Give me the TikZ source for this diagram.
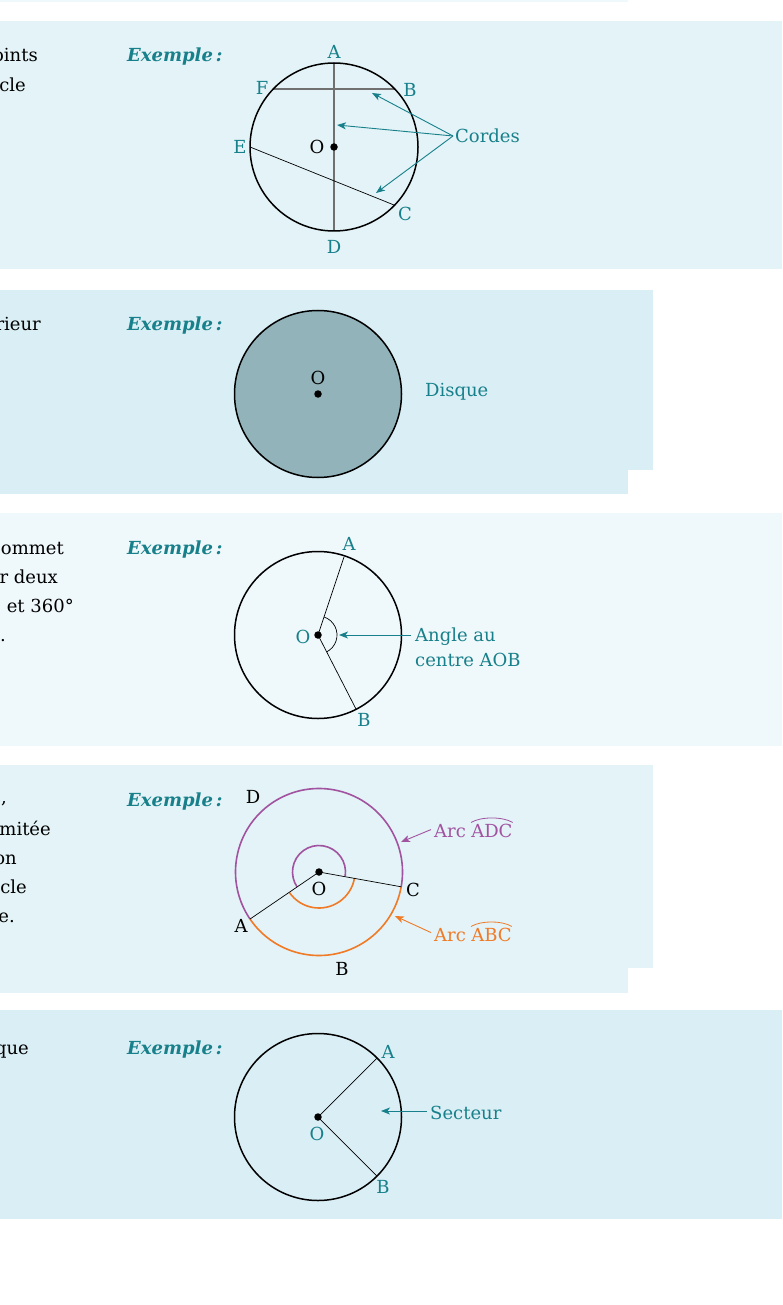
\documentclass[tikz,border=0pt]{standalone}
\usepackage{fontspec}
\setmainfont{DejaVu Serif}
\usetikzlibrary{arrows.meta,calc}
\definecolor{tealc}{HTML}{17808A}
\definecolor{bgA}{HTML}{E3F3F7}
\definecolor{bgB}{HTML}{DAEEF5}
\definecolor{bgC}{HTML}{EFF8FB}
\definecolor{arcp}{HTML}{A153A0}
\definecolor{arco}{HTML}{F07A26}
\definecolor{diskc}{HTML}{91B3B9}
\definecolor{chordg}{HTML}{707070}
\begin{document}
\begin{tikzpicture}[x=1pt,y=-1pt,
  body/.style={font=\fontsize{18}{22}\selectfont, inner sep=0pt, text=black, anchor=base east},
  lbl/.style={font=\fontsize{18}{22}\selectfont, inner sep=0pt, text=tealc},
  blbl/.style={font=\fontsize{18}{22}\selectfont, inner sep=0pt, text=black},
  ex/.style={font=\fontsize{18}{22}\selectfont\bfseries\itshape, text=tealc, inner sep=0pt, anchor=base west},
  circ/.style={draw=black, line width=1.5pt},
  thinl/.style={draw=black, line width=0.7pt},
  grayl/.style={draw=chordg, line width=1.3pt},
  dotc/.style={circle, fill=black, inner sep=0pt, minimum size=7.5pt},
  tip/.style={-{Stealth[length=9pt,width=7pt,inset=2.5pt]}},
  tarr/.style={draw=tealc, line width=0.9pt, tip},
]
\useasboundingbox (0,0) rectangle (782,1305);
\clip (0,0) rectangle (782,1305);
\fill[white] (0,0) rectangle (782,1305);

% ---------- backgrounds ----------
\fill[bgC] (0,0) rectangle (628,2);
\fill[bgA] (0,21) rectangle (782,269);
\fill[bgB] (0,290) rectangle (653,470);
\fill[bgB] (0,470) rectangle (628,494);
\fill[bgC] (0,513) rectangle (782,746);
\fill[bgA] (0,765) rectangle (653,968);
\fill[bgA] (0,968) rectangle (628,993);
\fill[bgB] (0,1010) rectangle (782,1219);

% ---------- left text fragments ----------
\node[body] (t1a) at (38,62) {oints};
\node[body] (t1b) at (26,92) {cle};
\node[body] (t2a) at (41,330) {rieur};
\node[body] (t3a) at (64,554) {ommet};
\node[body] (t3b) at (58,583) {r deux};
\node[body] (t3c) at (74,612) {° et 360°};
\node[body] (t3d) at (6,641) {.};
\node[body] (t4a) at (7,803) {s,};
\node[body] (t4b) at (51,835) {mitée};
\node[body] (t4c) at (17,864) {on};
\node[body] (t4d) at (27,893) {cle};
\node[body] (t4e) at (15,922) {e.};
\node[body] (t5a) at (29,1054) {que};

% ---------- Exemple labels ----------
\node[ex] (ex1) at (127,62) {Exemple\,:};
\node[ex] (ex2) at (127,330) {Exemple\,:};
\node[ex] (ex3) at (127,554) {Exemple\,:};
\node[ex] (ex4) at (127,806) {Exemple\,:};
\node[ex] (ex5) at (127,1054) {Exemple\,:};

% ---------- Panel 1 : cordes ----------
\coordinate (O1) at (334,147);
\coordinate (A1) at (334,63);
\coordinate (D1) at (334,231);
\coordinate (F1) at (273,89);
\coordinate (B1) at (395,89);
\coordinate (E1) at (250,147);
\coordinate (C1) at (394,205);
\draw[grayl] (A1) -- (D1);
\draw[grayl] (F1) -- (B1);
\draw[thinl] (E1) -- (C1);
\draw[circ] (O1) circle[radius=84];
\node[dotc] (dot1) at (O1) {};
\node[blbl] (lO1) at (317,147) {O};
\node[lbl] (lA1) at (334,52) {A};
\node[lbl] (lB1) at (410,90) {B};
\node[lbl] (lF1) at (262,88) {F};
\node[lbl] (lE1) at (240,147) {E};
\node[lbl] (lC1) at (405,214) {C};
\node[lbl] (lD1) at (334,247) {D};
\node[lbl, anchor=west, inner sep=2pt] (cordes) at (453,136) {Cordes};
\coordinate (k1) at (372,93);
\coordinate (k2) at (337,125);
\coordinate (k3) at (376,193);
\draw[tarr] (cordes.west) -- (k1);
\draw[tarr] (cordes.west) -- (k2);
\draw[tarr] (cordes.west) -- (k3);

% ---------- Panel 2 : disque ----------
\coordinate (O2) at (318,394);
\draw[circ, fill=diskc] (O2) circle[radius=83.5];
\node[dotc] (dot2) at (O2) {};
\node[blbl] (lO2) at (318,378) {O};
\node[lbl, anchor=west] (disque) at (425,392) {Disque};

% ---------- Panel 3 : angle au centre ----------
\coordinate (O3) at (318,635);
\coordinate (A3) at (344,557);
\coordinate (B3) at (356,709);
\draw[thinl] (O3) -- (A3);
\draw[thinl] (O3) -- (B3);
\draw[thinl] ($(O3)+(-71.6:19)$) arc[start angle=-71.6, end angle=62.8, radius=19];
\draw[circ] (O3) circle[radius=83.5];
\node[dotc] (dot3) at (O3) {};
\node[lbl] (lO3) at (303,637) {O};
\node[lbl] (lA3) at (349,544) {A};
\node[lbl] (lB3) at (364,720) {B};
\node[lbl, anchor=west, align=left, font=\fontsize{18}{25}\selectfont] (angle) at (415,647) {Angle au\\centre AOB};
\coordinate (k4) at (339,635);
\draw[tarr] (411,635) -- (k4);

% ---------- Panel 4 : arcs ----------
\coordinate (O4) at (319,872);
\coordinate (A4) at ($(O4)+(-214.3:83.5)$);
\coordinate (C4) at ($(O4)+(10.2:83.5)$);
\draw[arco, line width=1.6pt] (A4) arc[start angle=-214.3, end angle=-349.8, radius=83.5];
\draw[arcp, line width=1.6pt] (C4) arc[start angle=10.2, end angle=-214.3, radius=83.5];
\draw[arcp, line width=1.6pt] ($(O4)+(9:26.5)$) arc[start angle=9, end angle=-214, radius=26.5];
\draw[arco, line width=1.6pt] ($(O4)+(-215:36)$) arc[start angle=-215, end angle=-350.5, radius=36];
\draw[thinl] (O4) -- (A4);
\draw[thinl] (O4) -- (C4);
\node[dotc] (dot4) at (O4) {};
\node[blbl] (lO4) at (319,889) {O};
\node[blbl] (lD4) at (253,797) {D};
\node[blbl] (lA4) at (241,926) {A};
\node[blbl] (lB4) at (342,969) {B};
\node[blbl] (lC4) at (413,890) {C};
\node[font=\fontsize{18}{22}\selectfont, inner sep=0pt, text=arcp, anchor=base west] (adcw) at (434,837) {Arc};
\node[font=\fontsize{18}{22}\selectfont, inner sep=0pt, text=arcp, anchor=base west] (adc) at ($(adcw.base east)+(5,0)$) {ADC};
\draw[arcp, line width=0.8pt] ($(adc.north west)+(0,-1)$) .. controls ($(adc.north west)+(10,-7)$) and ($(adc.north east)+(-10,-7)$) .. ($(adc.north east)+(0,-1)$);
\node[font=\fontsize{18}{22}\selectfont, inner sep=0pt, text=arco, anchor=base west] (abcw) at (434,941) {Arc};
\node[font=\fontsize{18}{22}\selectfont, inner sep=0pt, text=arco, anchor=base west] (abc) at ($(abcw.base east)+(5,0)$) {ABC};
\draw[arco, line width=0.8pt] ($(abc.north west)+(0,-1)$) .. controls ($(abc.north west)+(10,-7)$) and ($(abc.north east)+(-10,-7)$) .. ($(abc.north east)+(0,-1)$);
\coordinate (k5) at (401,842);
\coordinate (k6) at (395,916);
\draw[arcp, line width=0.9pt, tip] ($(adcw.west)+(-3,-1)$) -- (k5);
\draw[arco, line width=0.9pt, tip] ($(abcw.west)+(-3,-2)$) -- (k6);

% ---------- Panel 5 : secteur ----------
\coordinate (O5) at (318,1117);
\coordinate (A5) at ($(O5)+(-45:83.5)$);
\coordinate (B5) at ($(O5)+(45:83.5)$);
\draw[thinl] (O5) -- (A5);
\draw[thinl] (O5) -- (B5);
\draw[circ] (O5) circle[radius=83.5];
\node[dotc] (dot5) at (O5) {};
\node[lbl] (lO5) at (317,1134) {O};
\node[lbl] (lA5) at (388,1052) {A};
\node[lbl] (lB5) at (383,1187) {B};
\node[lbl, anchor=west] (secteur) at (430,1113) {Secteur};
\coordinate (k7) at (381,1111);
\draw[tarr] ($(secteur.west)+(-3,-2)$) -- (k7);
\end{tikzpicture}
\end{document}
